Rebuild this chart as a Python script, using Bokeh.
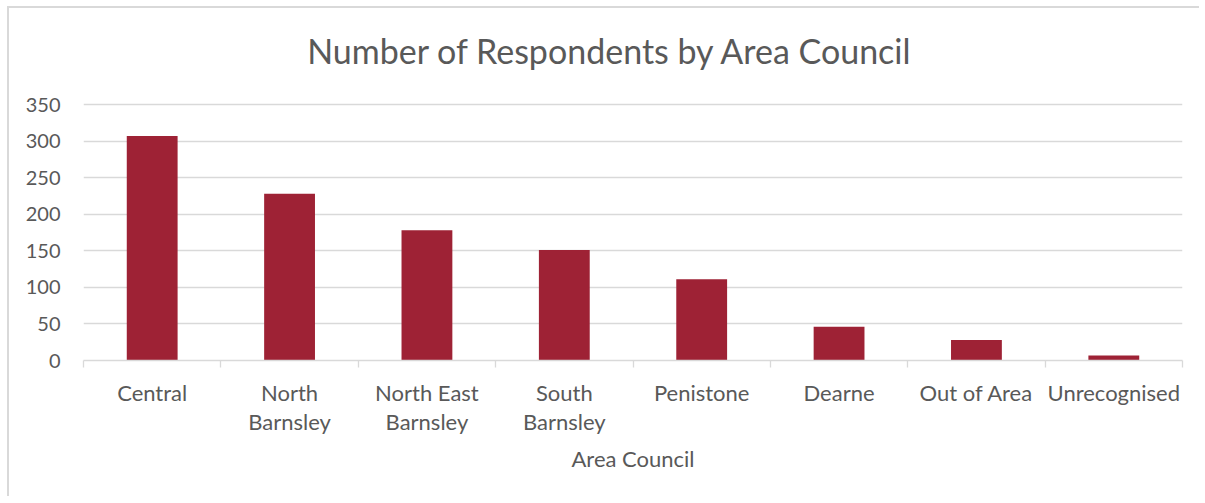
from bokeh.plotting import figure
from bokeh.models import FixedTicker, Range1d, ColumnDataSource, Label
from bokeh.embed import file_html
from bokeh.resources import INLINE

title_text = "Number of Respondents by Area Council"
categories = ["Central", "North\nBarnsley", "North East\nBarnsley", "South\nBarnsley",
              "Penistone", "Dearne", "Out of Area", "Unrecognised"]
respondents = [307, 228, 178, 151, 111, 46, 28, 7]
y_ticks = [0, 50, 100, 150, 200, 250, 300, 350]

FONT = "Lato"
GREY = "#595959"

xs = [i + 0.5 for i in range(len(categories))]
src = ColumnDataSource(dict(x=xs, top=respondents))

# frame spans full height above the axis; 350 sits where the reference's top gridline is
y_top = 350 * 352 / 256

p = figure(width=1192, height=490, output_backend="svg", toolbar_location=None,
           x_range=Range1d(0, len(categories)), y_range=Range1d(0, y_top),
           min_border_left=74, min_border_right=19, min_border_top=0, min_border_bottom=138)
p.styles = {"margin-left": "9px", "margin-top": "8px",
            "box-shadow": "-2px -2px 0 0 #d9d9d9"}

p.vbar(x="x", top="top", width=0.37, source=src, fill_color="#9e2235", line_color=None)

p.add_layout(Label(x=527, y=310, x_units="screen", y_units="screen", text=title_text,
                   text_align="center", text_baseline="middle", text_font=FONT,
                   text_font_size="34px", text_color=GREY))

p.outline_line_color = None
p.border_fill_color = "white"
p.background_fill_color = "white"

p.xgrid.grid_line_color = None
p.ygrid.grid_line_color = "#d9d9d9"
p.ygrid.grid_line_width = 1.3
p.yaxis.ticker = FixedTicker(ticks=y_ticks)
p.xaxis.ticker = FixedTicker(ticks=xs, minor_ticks=list(range(len(categories) + 1)))
p.xaxis.major_label_overrides = {x: c for x, c in zip(xs, categories)}

p.xaxis.axis_line_color = "#d9d9d9"
p.xaxis.axis_line_width = 1.3
p.xaxis.major_tick_line_color = None
p.xaxis.minor_tick_line_color = "#d9d9d9"
p.xaxis.minor_tick_line_width = 1.3
p.xaxis.minor_tick_out = 7
p.xaxis.minor_tick_in = 0
p.xaxis.major_label_standoff = 11
p.xaxis.major_label_text_font = FONT
p.xaxis.major_label_text_font_size = "22px"
p.xaxis.major_label_text_line_height = 1.1
p.xaxis.major_label_text_color = GREY
p.xaxis.axis_label = "Area Council"
p.xaxis.axis_label_text_font = FONT
p.xaxis.axis_label_text_font_size = "22px"
p.xaxis.axis_label_text_font_style = "normal"
p.xaxis.axis_label_text_color = GREY
p.xaxis.axis_label_standoff = 7

p.yaxis.axis_line_color = None
p.yaxis.major_tick_line_color = None
p.yaxis.minor_tick_line_color = None
p.yaxis.major_label_standoff = 17
p.yaxis.major_label_text_font = FONT
p.yaxis.major_label_text_font_size = "20px"
p.yaxis.major_label_text_color = GREY

open("out.html", "w").write(file_html(p, INLINE))
